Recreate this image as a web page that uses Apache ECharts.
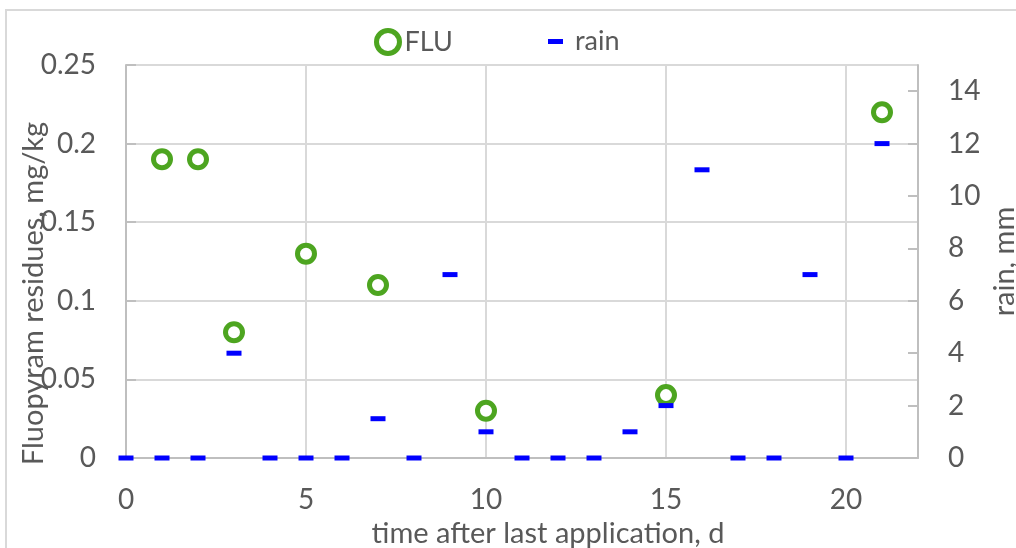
<!DOCTYPE html>
<html>
<head>
<meta charset="utf-8">
<script src="https://cdn.jsdelivr.net/npm/echarts@6/dist/echarts.min.js"></script>
<style>
  html, body { margin: 0; padding: 0; background: #fff; }
  #chart { width: 1016px; height: 548px; }
</style>
</head>
<body>
<div id="chart"></div>
<script>
// FLU residues (mg/kg) by day
const fluDays = [1, 2, 3, 5, 7, 10, 15, 21]
const fluValues = [0.19, 0.19, 0.08, 0.13, 0.11, 0.03, 0.04, 0.22]

// daily rain (mm)
const rainDays = [0, 1, 2, 3, 4, 5, 6, 7, 8, 9, 10, 11, 12, 13, 14, 15, 16, 17, 18, 19, 20, 21]
const rainValues = [0, 0, 0, 4, 0, 0, 0, 1.5, 0, 7, 1, 0, 0, 0, 1, 2, 11, 0, 0, 7, 0, 12]

const green = '#4da520'
const blue = '#0000ff'
const labelColor = '#595959'
const font = 'Lato, "Open Sans", sans-serif'

const chart = echarts.init(document.getElementById('chart'))

const options = {
  animation: false,
  textStyle: { fontFamily: font },
  graphic: [{
    type: 'rect',
    shape: { x: 6, y: 10, width: 1030, height: 560 },
    style: { fill: 'none', stroke: '#d9d9d9', lineWidth: 2 },
    z: -1
  }],
  legend: [{
    data: ['FLU'],
    left: 369,
    top: 23,
    itemWidth: 23,
    itemHeight: 23,
    itemStyle: { color: '#ffffff', borderColor: green, borderWidth: 5 },
    textStyle: { color: labelColor, fontSize: 27, fontFamily: font }
  }, {
    data: [{ name: 'rain', icon: 'rect' }],
    left: 543,
    top: 23,
    itemWidth: 15,
    itemHeight: 5,
    textStyle: { color: labelColor, fontSize: 27, fontFamily: font, padding: [0, 0, 0, 7] }
  }],
  grid: {
    left: 126,
    right: 98,
    top: 65,
    bottom: 90,
    outerBoundsMode: 'none'
  },
  xAxis: {
    type: 'value',
    min: 0,
    max: 22,
    interval: 5,
    name: 'time after last application, d',
    nameLocation: 'middle',
    nameGap: 51,
    nameTextStyle: { color: labelColor, fontSize: 29, padding: [0, 0, 0, 52] },
    axisLine: { show: true, lineStyle: { color: '#bfbfbf', width: 2 } },
    axisTick: { show: false },
    axisLabel: { color: labelColor, fontSize: 28, margin: 28, showMaxLabel: false },
    splitLine: { show: true, lineStyle: { color: '#d9d9d9', width: 2 } }
  },
  yAxis: [{
    type: 'value',
    min: 0,
    max: 0.25,
    interval: 0.05,
    name: 'Fluopyram residues, mg/kg',
    nameLocation: 'middle',
    nameRotate: 90,
    nameGap: 78,
    nameMoveOverlap: false,
    nameTextStyle: { color: labelColor, fontSize: 29, padding: [0, 64, 0, 0] },
    axisLine: { show: true, lineStyle: { color: '#bfbfbf', width: 2 } },
    axisTick: { show: true, inside: true, length: 10, lineStyle: { color: '#bfbfbf', width: 2 } },
    axisLabel: { color: labelColor, fontSize: 28, margin: 30 },
    splitLine: { show: true, lineStyle: { color: '#d9d9d9', width: 2 } }
  }, {
    type: 'value',
    min: 0,
    max: 15,
    interval: 2,
    name: 'rain, mm',
    nameLocation: 'middle',
    nameRotate: 90,
    nameGap: 72,
    nameMoveOverlap: false,
    nameTextStyle: { color: labelColor, fontSize: 29 },
    axisLine: { show: true, lineStyle: { color: '#bfbfbf', width: 2 } },
    axisTick: { show: true, inside: true, length: 10, lineStyle: { color: '#bfbfbf', width: 2 } },
    axisLabel: { color: labelColor, fontSize: 28, margin: 30, showMaxLabel: false },
    splitLine: { show: false }
  }],
  series: [{
    name: 'FLU',
    type: 'scatter',
    yAxisIndex: 0,
    symbol: 'circle',
    symbolSize: 17,
    itemStyle: { color: '#ffffff', borderColor: green, borderWidth: 5, opacity: 1 },
    data: fluDays.map((d, i) => [d, fluValues[i]])
  }, {
    name: 'rain',
    type: 'scatter',
    yAxisIndex: 1,
    symbol: 'rect',
    symbolSize: [15, 5],
    itemStyle: { color: blue, opacity: 1 },
    data: rainDays.map((d, i) => [d, rainValues[i]])
  }]
}
chart.setOption(options)
</script>
</body>
</html>
